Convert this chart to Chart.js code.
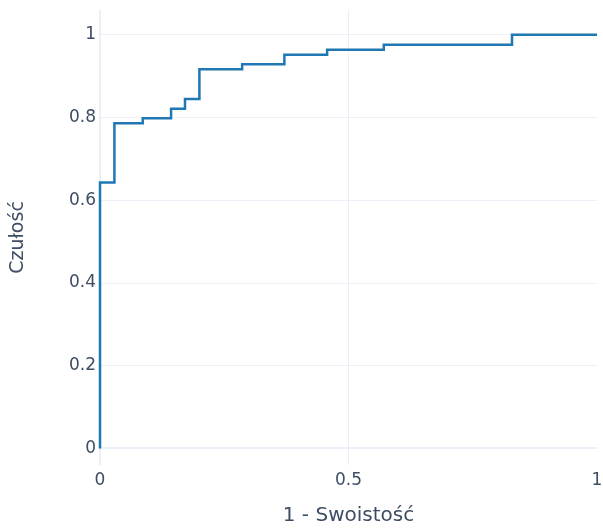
<!DOCTYPE html>
<html>
<head>
<meta charset="utf-8">
<script src="https://cdn.jsdelivr.net/npm/chart.js@4"></script>
<style>
  html, body { margin: 0; padding: 0; background: #ffffff; }
  #wrap { width: 603px; height: 528px; }
</style>
</head>
<body>
<div id="wrap"><canvas id="roc"></canvas></div>
<script>
// ROC curve: false positive rate (1 - specificity) vs. true positive rate (sensitivity)
const fpr = [0, 0, 0.029, 0.029, 0.086, 0.086, 0.143, 0.143, 0.171, 0.171, 0.2, 0.2,
             0.286, 0.286, 0.371, 0.371, 0.457, 0.457, 0.571, 0.571, 0.829, 0.829, 1];
const tpr = [0, 0.643, 0.643, 0.786, 0.786, 0.798, 0.798, 0.821, 0.821, 0.845, 0.845, 0.917,
             0.917, 0.929, 0.929, 0.952, 0.952, 0.964, 0.964, 0.976, 0.976, 1, 1];

const xTicks = [0, 0.5, 1];
const yTicks = [0, 0.2, 0.4, 0.6, 0.8, 1];
const xTitle = '1 - Swoistość';
const yTitle = 'Czułość';

const FONT = '"DejaVu Sans", Verdana, sans-serif';
const TEXT = '#3e4d63';
const GRID = '#ebf0f8';

const points = fpr.map((x, i) => ({ x: x, y: tpr[i] }));

new Chart(document.getElementById('roc'), {
  type: 'scatter',
  data: {
    datasets: [{
      data: points,
      showLine: true,
      borderColor: '#1f77b4',
      borderWidth: 2.5,
      pointRadius: 0,
      pointHoverRadius: 0,
      tension: 0,
      fill: false,
      clip: false
    }]
  },
  options: {
    responsive: true,
    maintainAspectRatio: false,
    animation: false,
    events: [],
    layout: { padding: { top: 10, right: 6, left: 0, bottom: 0 } },
    plugins: { legend: { display: false }, tooltip: { enabled: false } },
    scales: {
      x: {
        type: 'linear',
        min: 0,
        max: 1,
        afterBuildTicks: s => { s.ticks = xTicks.map(v => ({ value: v })); },
        afterFit: s => { s.height = 63; s.paddingLeft = 0; s.paddingRight = 0; },
        border: { display: false },
        grid: {
          drawTicks: false,
          color: c => (c.tick && c.tick.value === 1) ? 'rgba(0,0,0,0)' : GRID,
          lineWidth: c => (c.tick && c.tick.value === 0) ? 2 : 1
        },
        ticks: {
          padding: 5,
          autoSkip: false,
          maxRotation: 0,
          color: TEXT,
          font: { family: FONT, size: 17 },
          callback: v => String(v)
        },
        title: {
          display: true,
          text: xTitle,
          color: TEXT,
          font: { family: FONT, size: 20 },
          padding: { top: 0, bottom: 0 }
        }
      },
      y: {
        type: 'linear',
        min: -0.04,
        max: 1.06,
        afterBuildTicks: s => { s.ticks = yTicks.map(v => ({ value: v })); },
        afterFit: s => { s.width = 100; s.paddingTop = 0; s.paddingBottom = 0; },
        border: { display: false },
        grid: {
          drawTicks: false,
          color: GRID,
          lineWidth: c => (c.tick && c.tick.value === 0) ? 2 : 1
        },
        ticks: {
          padding: 4,
          autoSkip: false,
          color: TEXT,
          font: { family: FONT, size: 17 },
          callback: v => String(v)
        },
        title: {
          display: true,
          text: yTitle,
          color: TEXT,
          font: { family: FONT, size: 19 },
          padding: { top: 7, bottom: 0 }
        }
      }
    }
  }
});
</script>
</body>
</html>
